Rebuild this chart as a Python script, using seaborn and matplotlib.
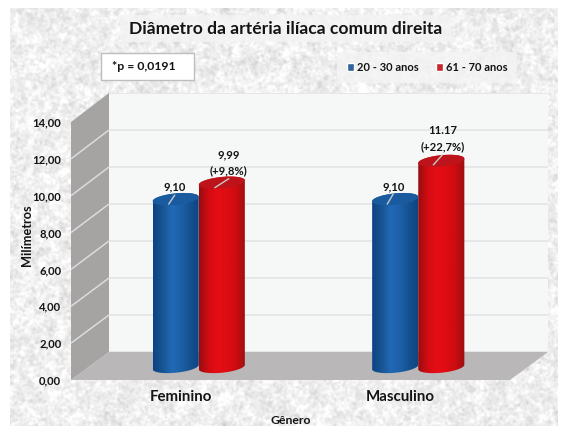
import numpy as np
import pandas as pd
import matplotlib
matplotlib.use("Agg")
import matplotlib.pyplot as plt
from matplotlib.patches import Polygon, Rectangle
from matplotlib.colors import LinearSegmentedColormap
import seaborn as sns

# ---------- data ----------
generos = ["Feminino", "Masculino"]
faixas = ["20 - 30 anos", "61 - 70 anos"]
valores_jovens = [9.10, 9.10]
valores_idosos = [9.99, 11.17]
rotulos_jovens = ["9,10", "9,10"]
rotulos_idosos = ["9,99\n(+9,8%)", "11.17\n(+22,7%)"]
y_ticks = [0, 2, 4, 6, 8, 10, 12, 14]
y_ticklabels = ["0,00", "2,00", "4,00", "6,00", "8,00", "10,00", "12,00", "14,00"]
titulo = "Diâmetro da artéria ilíaca comum direita"
nota = "*p = 0,0191"

# ---------- style ----------
W, H = 563, 426
sns.set_theme(style="white")
plt.rcParams["font.family"] = ["Lato", "DejaVu Sans"]
plt.rcParams["font.weight"] = "bold"
plt.rcParams["text.color"] = "#1a1a1a"
BLUE, RED = "#1f62ae", "#e00c14"
TXT = "#141414"

fig = plt.figure(figsize=(W / 100, H / 100), dpi=100, facecolor="white")


def px_axes(x0, y_top, x1, y_bottom, **kw):
    return fig.add_axes([x0 / W, 1 - y_bottom / H, (x1 - x0) / W, (y_bottom - y_top) / H], **kw)


# frame geometry (pixels)
BACK = (109, 93, 548, 352)
FRONT = (71, 122, 510, 380)
BARS = (89, 108.7, 528, 367)

# ---------- textured paper background (decoration only) ----------
canvas = px_axes(0, 0, W, H, zorder=0)
canvas.axis("off")
rng = np.random.default_rng(7)
noise = rng.normal(size=(H, W))
fx = np.fft.fftfreq(W)[None, :]
fy = np.fft.fftfreq(H)[:, None]
fine = np.fft.ifft2(np.fft.fft2(noise) * np.exp(-(fx**2 + fy**2) * 18)).real
coarse = np.fft.ifft2(np.fft.fft2(noise) * np.exp(-(fx**2 + fy**2) * 250)).real
tex = 0.938 + 0.026 * fine / fine.std() + 0.010 * coarse / coarse.std()
tex = np.clip(tex, 0.80, 1.0)
canvas.imshow(tex, cmap="gray", vmin=0, vmax=1, extent=(10, 558, 426, 8), aspect="auto", zorder=0)
canvas.set_xlim(0, W)
canvas.set_ylim(H, 0)

# light boxes behind the title
canvas.add_patch(Rectangle((120, 15), 332, 27, fc="#f4f4f4", ec="none", alpha=0.8, zorder=1))

# side wall built from the frame geometry
canvas.add_patch(Polygon([(FRONT[0], FRONT[1]), (BACK[0], BACK[1]), (BACK[0], BACK[3]), (FRONT[0], FRONT[3])],
                         fc="#a6a4a2", ec="none", zorder=2))

# ---------- back wall ----------
ax_back = px_axes(*BACK, zorder=1)
ax_back.set_facecolor("#f6f7f7")
ax_back.set_ylim(0, 14)
ax_back.set_xlim(0, 1)
ax_back.set_yticks(y_ticks)
ax_back.set_xticks([])
ax_back.tick_params(left=False, labelleft=False)
ax_back.grid(axis="y", color="#e3e3e6", lw=1.1)
sns.despine(ax=ax_back, left=True, bottom=True, top=True, right=True)

# ---------- overlay for floor and wall grid lines ----------
over = px_axes(0, 0, W, H, zorder=2)
over.set_xlim(0, W)
over.set_ylim(H, 0)
over.axis("off")
over.add_patch(Polygon([(BACK[0], BACK[3]), (BACK[2], BACK[3]), (FRONT[2], FRONT[3]), (FRONT[0], FRONT[3])],
                       fc="#b9b7b7", ec="none"))
for t in y_ticks[1:-1]:
    yb = BACK[3] + (BACK[1] - BACK[3]) * t / 14
    yf = FRONT[3] + (FRONT[1] - FRONT[3]) * t / 14
    over.plot([FRONT[0], BACK[0]], [yf, yb], color="#dcdcdc", lw=1.1, solid_capstyle="butt")

# ---------- front frame: ticks, category labels, axis titles ----------
ax_front = px_axes(*FRONT, zorder=3)
ax_front.patch.set_alpha(0)
sns.despine(ax=ax_front, left=True, bottom=True, top=True, right=True)
ax_front.set_xlim(-0.5, 1.5)
ax_front.set_ylim(0, 14)
ax_front.set_xticks(range(len(generos)), generos, fontsize=10.8, fontweight="bold", color=TXT)
ax_front.set_yticks(y_ticks, y_ticklabels, fontsize=8.1, fontweight="bold", color=TXT)
ax_front.tick_params(axis="y", length=0, pad=7)
ax_front.tick_params(axis="x", length=0, pad=7)
ax_front.set_ylabel("Milímetros", fontsize=9.2, fontweight="bold", color=TXT)
ax_front.yaxis.set_label_coords(-0.086, 0.56)
ax_front.set_xlabel("Gênero", fontsize=8.8, fontweight="bold", color=TXT)
ax_front.xaxis.set_label_coords(0.5, -0.135)

# ---------- bars ----------
ax_bar = px_axes(*BARS, zorder=4)
ax_bar.patch.set_alpha(0)
df = pd.DataFrame({
    "Gênero": generos * 2,
    "Faixa": [faixas[0]] * 2 + [faixas[1]] * 2,
    "Valor": valores_jovens + valores_idosos,
})
sns.barplot(data=df, x="Gênero", y="Valor", hue="Faixa", hue_order=faixas,
            palette=[BLUE, RED], width=0.42, gap=0, ax=ax_bar, errorbar=None)
handles, labels = ax_bar.get_legend_handles_labels()
ax_bar.get_legend().remove()
ax_bar.set_xlabel("")
ax_bar.set_ylabel("")
ax_bar.set_xticks([])
ax_bar.set_yticks([])
sns.despine(ax=ax_bar, left=True, bottom=True, top=True, right=True)

shades = {
    0: LinearSegmentedColormap.from_list("b", ["#0e4284", "#185592", "#2169b5", "#1e60a8", "#14508f", "#0f4484"]),
    1: LinearSegmentedColormap.from_list("r", ["#980d10", "#d20c12", "#e60e15", "#de0c13", "#cc0c11", "#9c100f"]),
}
tops = {0: "#1a5b9f", 1: "#bd131a"}
grad = np.linspace(0, 1, 64)[None, :]
tt = np.linspace(0, 2 * np.pi, 81)
EH = 0.31   # half height of the ellipse, in axis units
SH = 0.12   # tilt of the ellipse, in axis units
lower = np.linspace(np.pi, 2 * np.pi, 40)
upper = np.linspace(0, np.pi, 40)
for i, cont in enumerate(ax_bar.containers):
    for bar in cont:
        x0, w, h = bar.get_x(), bar.get_width(), bar.get_height()
        bar.set_facecolor("none")
        bar.set_edgecolor("none")
        cx = x0 + w / 2
        px = np.r_[cx + w / 2 * np.cos(lower), cx + w / 2 * np.cos(upper)]
        py = np.r_[EH * np.sin(lower) + SH * np.cos(lower), h + EH * np.sin(upper) + SH * np.cos(upper)]
        body = Polygon(np.c_[px, py], closed=True, fc="none", ec="none", zorder=3 + i, clip_on=False)
        ax_bar.add_patch(body)
        im = ax_bar.imshow(grad, cmap=shades[i], extent=(x0, x0 + w, -1, h + 1), aspect="auto", zorder=3 + i)
        im.set_clip_box(fig.bbox)
        im.set_clip_path(body)
        ax_bar.add_patch(Polygon(np.c_[cx + w / 2 * np.cos(tt), h + EH * np.sin(tt) + SH * np.cos(tt)],
                                 closed=True, fc=tops[i], ec="none", zorder=3.5 + i, clip_on=False))
ax_bar.set_xlim(-0.5, 1.5)
ax_bar.set_ylim(0, 14)

# value labels with leader lines (pixel offsets from the top of each bar)
label_sets = [rotulos_jovens, rotulos_idosos]
text_offsets = [[(-1, 7), (-2, 7)], [(7, 6), (1, 9)]]
line_offsets = [[((-7, -5), (-1, 4)), ((-8, -5), (-2, 5))], [((-7, -5), (7, 4)), ((-8, -4), (1, 6))]]
for i, cont in enumerate(ax_bar.containers):
    for j, (bar, txt) in enumerate(zip(cont, label_sets[i])):
        cx = bar.get_x() + bar.get_width() / 2
        top = bar.get_height()
        ax_bar.annotate(txt, (cx, top), xytext=text_offsets[i][j], textcoords="offset pixels",
                        ha="center", va="bottom", fontsize=8.1, fontweight="bold", color=TXT,
                        linespacing=1.55, zorder=9, annotation_clip=False)
        (a, b), (c, d) = line_offsets[i][j]
        ax_bar.plot([cx + a / 219.5, cx + c / 219.5], [top + b / 18.45, top + d / 18.45],
                    color="#c9c9c9", lw=1, zorder=8, clip_on=False)

# ---------- titles, note and legend ----------
fig.text(286 / W, 1 - 29 / H, titulo, ha="center", va="center", fontsize=12.6, fontweight="bold", color=TXT)
fig.text(143.5 / W, 1 - 66.5 / H, nota, ha="center", va="center", fontsize=8.8, fontweight="bold", color=TXT, zorder=6)
canvas.add_patch(Rectangle((101, 53), 93, 27, fc="white", ec="#bdbdbd", lw=1, zorder=3))
leg = fig.legend(handles, labels, loc="center", bbox_to_anchor=(427 / W, 1 - 67.5 / H), ncol=2,
                 frameon=True, fontsize=8, handlelength=0.7, handleheight=0.7, handletextpad=0.2,
                 columnspacing=1.55, borderpad=0.9)
leg.get_frame().set(facecolor="#f4f4f4", edgecolor="none", alpha=0.8, boxstyle="square,pad=0")
for t in leg.get_texts():
    t.set_fontweight("bold")
    t.set_color(TXT)

fig.savefig("out.png", dpi=100, facecolor="white")
